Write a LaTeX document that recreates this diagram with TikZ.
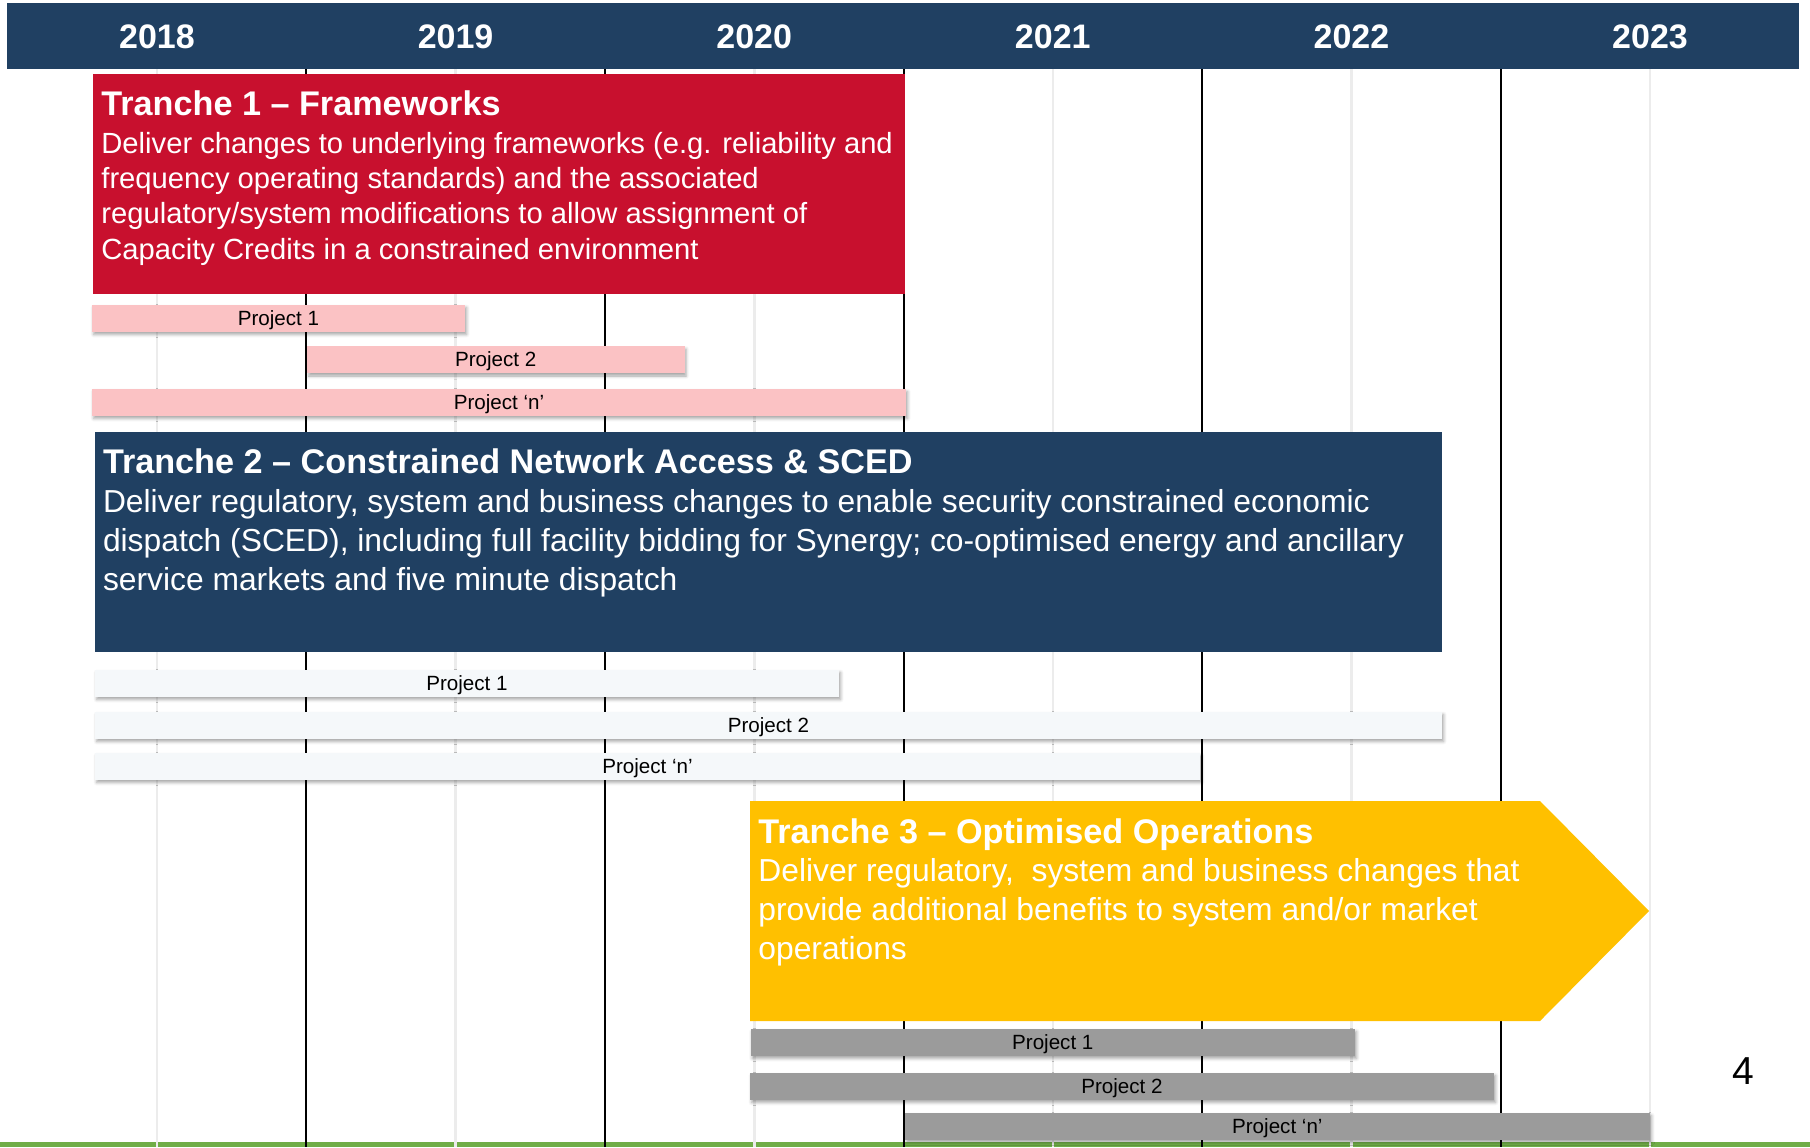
\documentclass[tikz,border=0pt]{standalone}
\usepackage{fontspec}
\setmainfont{Liberation Sans}
\usetikzlibrary{positioning,shadows.blur}
\definecolor{hdrblue}{RGB}{32,64,98}
\definecolor{trred}{RGB}{200,16,46}
\definecolor{tryellow}{RGB}{255,192,0}
\definecolor{pinkbar}{RGB}{251,194,196}
\definecolor{palebar}{RGB}{245,248,250}
\definecolor{greybar}{RGB}{155,155,155}
\definecolor{linegreen}{RGB}{112,173,71}
\definecolor{lightgrid}{RGB}{236,236,236}
\tikzset{
  year/.style    = {text=white, font=\fontsize{17}{20}\selectfont\bfseries},
  tranche/.style = {rectangle, inner sep=0pt, anchor=north west},
  ttitle/.style  = {text=white, inner sep=0pt, font=\fontsize{17.1}{20}\selectfont\bfseries},
  tbody/.style   = {text=white, inner sep=0pt, align=left},
  project/.style = {rectangle, inner sep=0pt, minimum height=13.5pt,
                    text depth=0pt, font=\fontsize{10.3}{12}\selectfont,
                    blur shadow={shadow xshift=0.8pt, shadow yshift=-1.5pt,
                    shadow blur radius=1.5pt, shadow opacity=35}}
}
\begin{document}
\begin{tikzpicture}[x=0.5pt, y=-0.5pt]
\useasboundingbox (0,0) rectangle (1810,1147);

% header band with the years
\fill[hdrblue] (7,3) rectangle (1799,69);
\foreach \yr [count=\i from 0] in {2018,...,2023}
  \node[year] (y\yr) at (157+298.6*\i, 37) {\yr};

% green rule at the bottom
\fill[linegreen] (0,1142) rectangle (1810,1147);

% year grid: light lines mid-year, dark lines between years
\foreach \i in {0,...,5}
  \draw[lightgrid, line width=1.3pt] (157+298.6*\i,69) -- (157+298.6*\i,1147);
\foreach \i in {0,...,4}
  \draw[black, line width=1pt] (306.3+298.6*\i,69) -- (306.3+298.6*\i,1147);

% Tranche 1
\node[tranche, fill=trred, minimum width=406pt, minimum height=110pt] (t1) at (93,74) {};
\node[ttitle, below right=8.3pt and 4pt of t1.north west] (t1title)
  {Tranche 1 -- Frameworks};
\node[tbody, font=\fontsize{14.6}{17.7}\selectfont,
      below right=28.8pt and 4pt of t1.north west] (t1body)
  {Deliver changes to underlying frameworks (e.g. reliability and\\
   frequency operating standards) and the associated\\
   regulatory/system modifications to allow assignment of\\
   Capacity Credits in a constrained environment};

\foreach \nm/\xa/\xb/\yc/\lab in {a1/92/465/318/Project 1,
    a2/307/684.5/359.5/Project 2, an/92/906/402/Project `n'}
  \node[project, fill=pinkbar, minimum width={(\xb-\xa)*0.5pt}]
    (\nm) at ({(\xa+\xb)/2},\yc) {\lab};

% Tranche 2
\node[tranche, fill=hdrblue, minimum width=673.5pt, minimum height=110pt] (t2) at (94.6,432) {};
\node[ttitle, below right=8.25pt and 4pt of t2.north west] (t2title)
  {Tranche 2 -- Constrained Network Access \& SCED};
\node[tbody, font=\fontsize{15.9}{19.3}\selectfont,
      below right=28.75pt and 4pt of t2.north west] (t2body)
  {Deliver regulatory, system and business changes to enable security constrained economic\\
   dispatch (SCED), including full facility bidding for Synergy; co-optimised energy and ancillary\\
   service markets and five minute dispatch};

\foreach \nm/\xa/\xb/\yc/\lab in {b1/95/839/683/Project 1,
    b2/95/1442/725/Project 2, bn/95/1200/766/Project `n'}
  \node[project, fill=palebar, minimum width={(\xb-\xa)*0.5pt}]
    (\nm) at ({(\xa+\xb)/2},\yc) {\lab};

% Tranche 3, arrow shaped
\fill[tryellow] (750,801) -- (1540,801) -- (1649,911) -- (1540,1021) -- (750,1021) -- cycle;
\coordinate (t3) at (750,801);
\node[ttitle, below right=8.6pt and 4pt of t3] (t3title)
  {Tranche 3 -- Optimised Operations};
\node[tbody, font=\fontsize{15.9}{19.3}\selectfont,
      below right=28.7pt and 4pt of t3] (t3body)
  {Deliver regulatory,\ \ system and business changes that\\
   provide additional benefits to system and/or market\\
   operations};

\foreach \nm/\xa/\xb/\yc/\lab in {c1/750.6/1355/1042/Project 1,
    c2/750/1494/1086/Project 2, cn/904.7/1650/1126/Project `n'}
  \node[project, fill=greybar, minimum width={(\xb-\xa)*0.5pt}]
    (\nm) at ({(\xa+\xb)/2},\yc) {\lab};

% page number
\node[font=\fontsize{19.5}{22}\selectfont] (pagenum) at (1743,1071) {4};
\end{tikzpicture}
\end{document}
